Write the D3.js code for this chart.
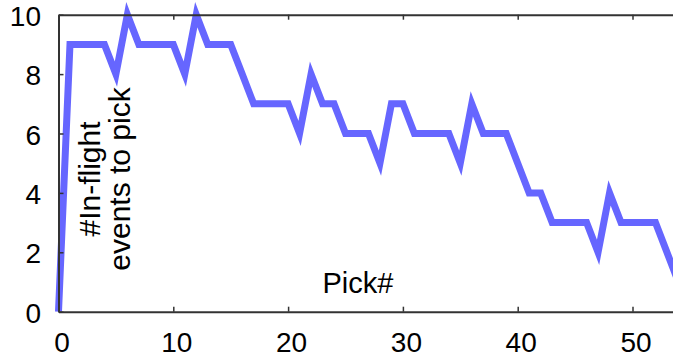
<!DOCTYPE html>
<html>
<head>
<meta charset="utf-8">
<script src="https://cdn.jsdelivr.net/npm/d3@7"></script>
<style>
  body { margin: 0; background: #fff; }
  svg { display: block; }
  text { font-family: "Liberation Sans", Arial, sans-serif; fill: #000; }
</style>
</head>
<body>
<svg width="673" height="358"></svg>
<script>
var picks = [0, 1, 2, 3, 4, 5, 6, 7, 8, 9, 10, 11, 12, 13, 14, 15, 16, 17, 18, 19, 20,
  21, 22, 23, 24, 25, 26, 27, 28, 29, 30, 31, 32, 33, 34, 35, 36, 37, 38, 39, 40,
  41, 42, 43, 44, 45, 46, 47, 48, 49, 50, 51, 52, 53, 54];
var inflight = [0, 9, 9, 9, 9, 8, 10, 9, 9, 9, 9, 8, 10, 9, 9, 9, 8, 7, 7, 7, 7,
  6, 8, 7, 7, 6, 6, 6, 5, 7, 7, 6, 6, 6, 6, 5, 7, 6, 6, 6, 5,
  4, 4, 3, 3, 3, 3, 2, 4, 3, 3, 3, 3, 2, 1];
var xTicks = [0, 10, 20, 30, 40, 50];
var yTicks = [0, 2, 4, 6, 8, 10];
var xLabel = "Pick#";
var yLabel = ["#In-flight", "events to pick"];

const svg = d3.select("svg");

var x = d3.scaleLinear().domain([0, 55]).range([58.5, 58.5 + 55 * 11.48]);
var y = d3.scaleLinear().domain([0, 10]).range([311.7, 14.7]);

var data = picks.map((p, i) => ({ x: p, y: inflight[i] }));

// line first, axes on top
svg
  .append("path")
  .datum(data)
  .attr("d", d3.line().x((d) => x(d.x)).y((d) => y(d.y)))
  .attr("fill", "none")
  .attr("stroke", "rgb(102,102,255)")
  .attr("stroke-width", 7)
  .attr("stroke-linejoin", "miter")
  .attr("stroke-miterlimit", 10);

var frame = svg.append("g").attr("id", "frame");

// ticks point inward on every side
frame
  .append("g")
  .attr("transform", `translate(0,${y(0)})`)
  .call(d3.axisBottom(x).tickValues(xTicks).tickSizeInner(-5).tickSizeOuter(0).tickFormat(""));

frame
  .append("g")
  .attr("transform", `translate(0,${y(10)})`)
  .call(d3.axisTop(x).tickValues(xTicks).tickSizeInner(-5).tickSizeOuter(0).tickFormat(""));

frame
  .append("g")
  .attr("transform", `translate(${x(0)},0)`)
  .call(d3.axisLeft(y).tickValues(yTicks).tickSizeInner(-5).tickSizeOuter(0).tickFormat(""));

frame.selectAll(".domain").attr("stroke", "#333").attr("stroke-width", 2);
frame.selectAll(".tick line").attr("stroke", "#333").attr("stroke-width", 1.5);

// tick labels
svg
  .append("g")
  .selectAll("text")
  .data(xTicks)
  .enter()
  .append("text")
  .attr("x", (d) => x(d) + 3.5)
  .attr("y", 352)
  .attr("text-anchor", "middle")
  .attr("font-size", 28)
  .text((d) => d);

svg
  .append("g")
  .selectAll("text")
  .data(yTicks)
  .enter()
  .append("text")
  .attr("x", 41)
  .attr("y", (d) => y(d) + 11)
  .attr("text-anchor", "end")
  .attr("font-size", 28)
  .text((d) => d);

svg
  .append("text")
  .attr("x", 358)
  .attr("y", 293)
  .attr("text-anchor", "middle")
  .attr("font-size", 29)
  .text(xLabel);

svg
  .selectAll(".ylab")
  .data(yLabel)
  .enter()
  .append("text")
  .attr("class", "ylab")
  .attr("transform", (d, i) => `translate(${100 + i * 30},179) rotate(-90)`)
  .attr("text-anchor", "middle")
  .attr("font-size", 30)
  .text((d) => d);
</script>
</body>
</html>
